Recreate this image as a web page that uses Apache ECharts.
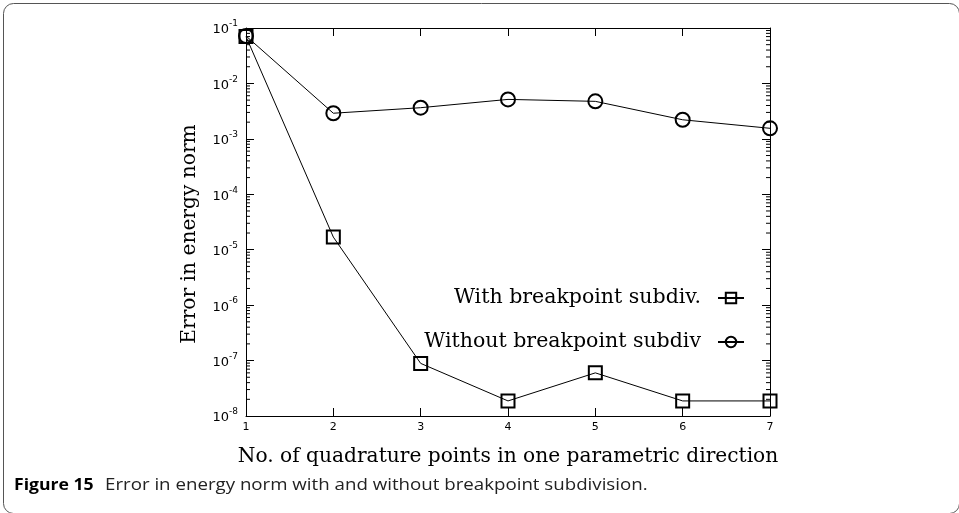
<!DOCTYPE html>
<html>
<head>
<meta charset="utf-8">
<script src="https://cdn.jsdelivr.net/npm/echarts@6/dist/echarts.min.js"></script>
<style>html,body{margin:0;padding:0;background:#fff;}#c{width:959px;height:513px;}</style>
</head>
<body>
<div id="c"></div>
<script>
var xValues = [1, 2, 3, 4, 5, 6, 7];
var withSubdiv = [0.070, 1.69e-5, 8.9e-8, 1.87e-8, 6.0e-8, 1.87e-8, 1.87e-8];
var withoutSubdiv = [0.0718, 2.9e-3, 3.65e-3, 5.15e-3, 4.75e-3, 2.21e-3, 1.55e-3];
var seriesNames = ['With breakpoint subdiv.', 'Without breakpoint subdiv'];
var xTitle = 'No. of quadrature points in one parametric direction';
var yTitle = 'Error in energy norm';
var captionBold = 'Figure 15';
var captionText = 'Error in energy norm with and without breakpoint subdivision.';

var minorTicks = [];
for (var e = -8; e < -1; e++) {
  for (var k = 2; k <= 9; k++) minorTicks.push(k * Math.pow(10, e));
}

var serif = '"DejaVu Serif", "Liberation Serif", serif';
var sans = '"DejaVu Sans", sans-serif';
var capFont = '"Open Sans", "Noto Sans", sans-serif';

var chart = echarts.init(document.getElementById('c'));
var gridLeft = 246, gridTop = 28, gridW = 524, gridH = 388;

function pairs(ys) { return xValues.map(function (x, i) { return [x, ys[i]]; }); }

var legendText = { fontFamily: serif, fontSize: 20.5, color: '#000', lineHeight: 24, padding: [0, 12, 0, 0] };

var option = {
  animation: false,
  backgroundColor: '#fff',
  grid: { left: gridLeft, top: gridTop, width: gridW, height: gridH },
  xAxis: [{
    type: 'value', min: 1, max: 7, interval: 1, position: 'bottom',
    axisLine: { show: true, onZero: false, lineStyle: { color: '#000', width: 1 } },
    axisTick: { show: true, inside: true, length: 8, lineStyle: { color: '#000' } },
    axisLabel: { color: '#000', fontFamily: sans, fontSize: 11, margin: 6 },
    splitLine: { show: false },
    name: xTitle, nameLocation: 'middle', nameGap: 31,
    nameTextStyle: { fontFamily: serif, fontSize: 20.2, color: '#000' }
  }, {
    type: 'value', min: 1, max: 7, interval: 1, position: 'top',
    axisLine: { show: true, onZero: false, lineStyle: { color: '#000', width: 1 } },
    axisTick: { show: true, inside: true, length: 8, lineStyle: { color: '#000' } },
    axisLabel: { show: false }, splitLine: { show: false }
  }],
  yAxis: [{
    type: 'log', logBase: 10, min: 1e-8, max: 1e-1, interval: 1, position: 'left',
    axisLine: { show: true, onZero: false, lineStyle: { color: '#000', width: 1 } },
    axisTick: { show: true, inside: true, length: 8, lineStyle: { color: '#000' } },
    axisLabel: {
      color: '#000', fontFamily: sans, fontSize: 13, margin: 8,
      formatter: function (v) { var n = Math.round(Math.log10(v)); return '{b|10}{s|' + n + '}'; },
      rich: {
        b: { fontFamily: sans, fontSize: 13, color: '#000', verticalAlign: 'bottom' },
        s: { fontFamily: sans, fontSize: 9, color: '#000', padding: [0, 0, 8, 0], verticalAlign: 'bottom' }
      }
    },
    splitLine: { show: false }
  }, {
    type: 'log', logBase: 10, min: 1e-8, max: 1e-1, interval: 1, position: 'right',
    axisLine: { show: true, onZero: false, lineStyle: { color: '#000', width: 1 } },
    axisTick: { show: true, inside: true, length: 8, lineStyle: { color: '#000' } },
    axisLabel: { show: false }, splitLine: { show: false }
  }],
  legend: [{
    data: [seriesNames[0]], right: 214, top: 286, align: 'right', orient: 'vertical',
    itemWidth: 26, itemHeight: 13, padding: 0, itemGap: 0, textStyle: legendText
  }, {
    data: [seriesNames[1]], right: 214, top: 330, align: 'right', orient: 'vertical',
    itemWidth: 26, itemHeight: 13, padding: 0, itemGap: 0, textStyle: legendText
  }],
  series: [{
    name: seriesNames[0], type: 'line', data: pairs(withSubdiv),
    symbol: 'rect', symbolSize: 13, clip: false,
    lineStyle: { color: '#000', width: 1 },
    itemStyle: { color: 'rgba(255,255,255,0)', borderColor: '#000', borderWidth: 2 },
    z: 3
  }, {
    name: seriesNames[1], type: 'line', data: pairs(withoutSubdiv),
    symbol: 'circle', symbolSize: 14, clip: false,
    lineStyle: { color: '#000', width: 1 },
    itemStyle: { color: 'rgba(255,255,255,0)', borderColor: '#000', borderWidth: 2 },
    z: 3
  }, {
    type: 'custom', silent: true, clip: false, data: minorTicks.map(function (v) { return [v]; }),
    encode: { y: 0 },
    renderItem: function (params, api) {
      var v = api.value(0);
      var l = api.coord([1, v]);
      var r = api.coord([7, v]);
      return {
        type: 'group', children: [
          { type: 'line', shape: { x1: l[0], y1: l[1], x2: l[0] + 4, y2: l[1] }, style: { stroke: '#000', lineWidth: 1 } },
          { type: 'line', shape: { x1: r[0], y1: r[1], x2: r[0] - 4, y2: r[1] }, style: { stroke: '#000', lineWidth: 1 } }
        ]
      };
    }
  }],
  graphic: [{
    type: 'rect', left: 1, top: 1, z: -1,
    shape: { width: 956, height: 510, r: 10 },
    style: { fill: 'none', stroke: '#555', lineWidth: 1 }
  }, {
    type: 'text', x: 190, y: 234, rotation: Math.PI / 2,
    style: { text: yTitle, fontFamily: serif, fontSize: 20.2, fill: '#000', align: 'center', verticalAlign: 'middle' }
  }, {
    type: 'text', x: 14, y: 485, scaleX: 1.1, originX: 0,
    style: { text: captionBold, fontFamily: capFont, fontWeight: 'bold', fontSize: 16, fill: '#000', verticalAlign: 'middle' }
  }, {
    type: 'text', x: 105, y: 485, scaleX: 1.168, originX: 0,
    style: { text: captionText, fontFamily: capFont, fontSize: 16, fill: '#222', verticalAlign: 'middle' }
  }]
};
chart.setOption(option);
</script>
</body>
</html>
